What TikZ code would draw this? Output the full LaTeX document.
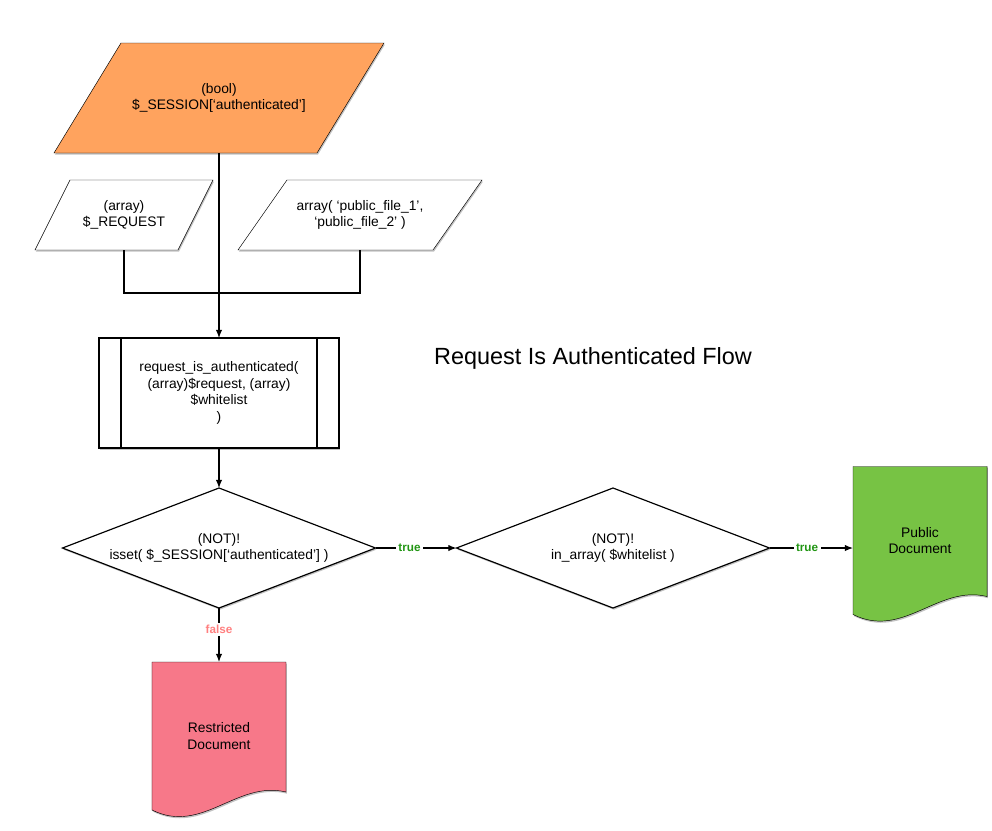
\documentclass[tikz,border=0pt]{standalone}
\usepackage{fontspec}
\setmainfont{Liberation Sans}
\usetikzlibrary{shapes.geometric,shadows,backgrounds,arrows.meta}

\definecolor{sessorange}{RGB}{255,163,94}
\definecolor{pubgreen}{RGB}{119,195,68}
\definecolor{restrpink}{RGB}{247,120,137}
\definecolor{truegreen}{RGB}{34,150,20}
\definecolor{falsered}{RGB}{255,128,128}

\begin{document}
\begin{tikzpicture}[
      x=0.03cm, y=-0.03cm,
      line width=1pt,
      every node/.style={font=\fontsize{11.8}{14}\selectfont, align=center},
      shad/.style={drop shadow={shadow xshift=0.8pt, shadow yshift=-1.4pt, fill=black!60, opacity=0.4}},
      iobox/.style={rectangle, inner sep=0pt, outer sep=0pt},
      proc/.style={rectangle, draw=black, fill=white, shad, minimum width=7.2cm, minimum height=3.3cm, inner sep=0pt, outer sep=0pt,
          path picture={
              \draw[black]
              ([xshift=0.66cm]path picture bounding box.north west) -- ([xshift=0.66cm]path picture bounding box.south west)
              ([xshift=-0.66cm]path picture bounding box.north east) -- ([xshift=-0.66cm]path picture bounding box.south east);
            }},
      decision/.style={diamond, draw=black, fill=white, shad, inner sep=0pt, outer sep=0pt, minimum width=9.39cm, minimum height=3.6cm},
      docbox/.style={rectangle, inner sep=0pt, outer sep=0pt, minimum width=4.02cm, minimum height=4.44cm},
      arr/.style={-{Latex[length=7pt,width=5.5pt]}},
      cond/.style={font=\fontsize{10}{12}\selectfont\bfseries, fill=white, inner sep=2pt}
    ]
    \useasboundingbox (0,0) rectangle (992,830);

    \node[iobox, minimum width=7.89cm, minimum height=3.3cm] (sess) at (219,98) {(bool)\\\$\_SESSION[‘authenticated’]};
    \node[iobox, minimum width=4.29cm, minimum height=2.1cm] (req) at (124,215) {(array)\\\$\_REQUEST};
    \node[iobox, minimum width=5.85cm, minimum height=2.1cm] (wl) at (360,215) {array( ‘public\_file\_1’,\\‘public\_file\_2’ )};
    \node[proc] (check) at (219,393) {request\_is\_authenticated(\\(array)\$request, (array)\\\$whitelist\\)};
    \node[decision, label={center:(NOT)!\\isset( \$\_SESSION[‘authenticated’] )}] (notset) at (219,548) {};
    \node[decision, label={center:(NOT)!\\in\_array( \$whitelist )}] (notwl) at (613,548) {};
    \node[docbox] (pub) at (920,540.5) {Public\\Document};
    \node[docbox] (restr) at (219,736) {Restricted\\Document};
    \node[font=\fontsize{20}{24}\selectfont] (title) at (593,358) {Request Is Authenticated Flow};
    \coordinate (join) at (219,293);

    % slanted input boxes and documents with wavy bottom
    \begin{scope}[on background layer]
      \draw[fill=sessorange, shad] ([xshift=1.005cm]sess.north west) -- ([xshift=1.005cm]sess.north east)
        -- ([xshift=-1.005cm]sess.south east) -- ([xshift=-1.005cm]sess.south west) -- cycle;
      \draw[fill=white, shad] ([xshift=0.525cm]req.north west) -- ([xshift=0.525cm]req.north east)
        -- ([xshift=-0.525cm]req.south east) -- ([xshift=-0.525cm]req.south west) -- cycle;
      \draw[fill=white, shad] ([xshift=0.735cm]wl.north west) -- ([xshift=0.735cm]wl.north east)
        -- ([xshift=-0.735cm]wl.south east) -- ([xshift=-0.735cm]wl.south west) -- cycle;
      \draw[fill=pubgreen, shad] (pub.south west) -- (pub.north west) -- (pub.north east) -- ([yshift=0.54cm]pub.south east)
        .. controls +(-1.47cm,0.36cm) and +(1.5cm,-0.75cm) .. (pub.south west) -- cycle;
      \draw[fill=restrpink, shad] (restr.south west) -- (restr.north west) -- (restr.north east) -- ([yshift=0.54cm]restr.south east)
        .. controls +(-1.47cm,0.36cm) and +(1.5cm,-0.75cm) .. (restr.south west) -- cycle;
    \end{scope}

    \draw[arr] (sess.south) -- (check.north);
    \draw (req.south) |- (join) -| (wl.south);
    \draw[arr] (check.south) -- (notset.north);
    \draw[arr] (notset.east) -- node[cond, text=truegreen, pos=0.42] {true} (notwl.west);
    \draw[arr] (notwl.east) -- node[cond, text=truegreen, pos=0.45] {true} (notwl.east -| pub.west);
    \draw[arr] (notset.south) -- node[cond, text=falsered, pos=0.4] {false} (restr.north);
  \end{tikzpicture}
\end{document}
